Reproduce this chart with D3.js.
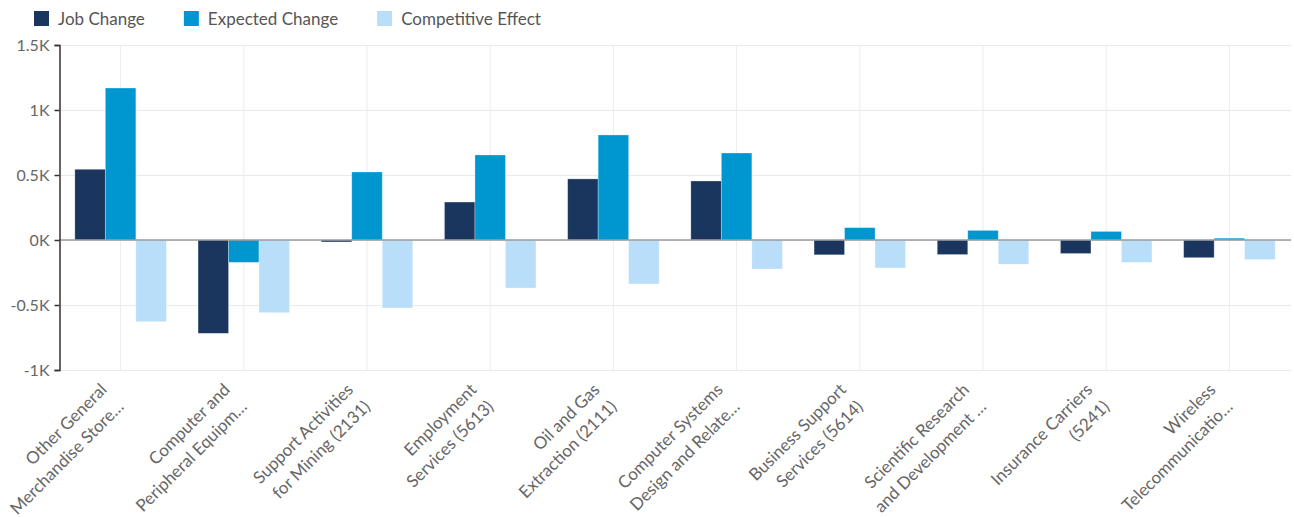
<!DOCTYPE html>
<html>
<head>
<meta charset="utf-8">
<script src="https://cdn.jsdelivr.net/npm/d3@7"></script>
<style>
  body { margin: 0; background: #fff; }
  svg { display: block; font-family: Lato, "Open Sans", sans-serif; }
</style>
</head>
<body>
<div id="chart"></div>
<script>
// category labels as shown (already cut by the chart)
var labels = [
    ["Other General", "Merchandise Store\u2026"],
    ["Computer and", "Peripheral Equipm\u2026"],
    ["Support Activities", "for Mining (2131)"],
    ["Employment", "Services (5613)"],
    ["Oil and Gas", "Extraction (2111)"],
    ["Computer Systems", "Design and Relate\u2026"],
    ["Business Support", "Services (5614)"],
    ["Scientific Research", "and Development \u2026"],
    ["Insurance Carriers", "(5241)"],
    ["Wireless", "Telecommunicatio\u2026"]
];
var seriesNames = ["Job Change", "Expected Change", "Competitive Effect"];
var seriesColors = ["#1a365e", "#0096d0", "#b8defa"];

var jobChange = [544, -718, -15, 292, 470, 454, -114, -112, -104, -136];
var expectedChange = [1169, -172, 523, 654, 808, 669, 95, 74, 66, 14];
var competitiveEffect = [-628, -559, -523, -369, -338, -223, -215, -186, -172, -150];

var yTicks = [-1000, -500, 0, 500, 1000, 1500];
var yTickLabels = ["-1K", "-0.5K", "0K", "0.5K", "1K", "1.5K"];

var W = 1294, H = 517;
var margin = {left: 59, right: 3, top: 45, bottom: 147};

var svg = d3.select("#chart").append("svg")
    .attr("width", W)
    .attr("height", H);

var series = [jobChange, expectedChange, competitiveEffect];
var idx = d3.range(labels.length);

var x0 = d3.scaleBand()
    .domain(idx)
    .range([margin.left, W - margin.right]);
var x1 = d3.scaleBand()
    .domain(d3.range(series.length))
    .range([0, x0.bandwidth()])
    .paddingOuter(0.52);
var y = d3.scaleLinear()
    .domain([-1000, 1500])
    .range([H - margin.bottom, margin.top]);

// grid
svg.append("g").selectAll("line.h")
    .data(yTicks)
    .enter().append("line")
    .attr("x1", margin.left).attr("x2", W - margin.right)
    .attr("y1", d => y(d) + 0.5).attr("y2", d => y(d) + 0.5)
    .attr("stroke", "#e9e9e9");
svg.append("g").selectAll("line.v")
    .data(idx)
    .enter().append("line")
    .attr("x1", d => x0(d) + x0.bandwidth() / 2)
    .attr("x2", d => x0(d) + x0.bandwidth() / 2)
    .attr("y1", margin.top).attr("y2", H - margin.bottom)
    .attr("stroke", "#ececec");

// bars
series.forEach(function(vals, s) {
    svg.append("g").selectAll("rect")
        .data(vals)
        .enter().append("rect")
        .attr("x", (d, i) => x0(i) + x1(s))
        .attr("width", x1.bandwidth())
        .attr("y", d => y(Math.max(0, d)))
        .attr("height", d => Math.abs(y(d) - y(0)))
        .attr("fill", seriesColors[s])
        .attr("stroke", "#fff")
        .attr("stroke-opacity", 0.35)
        .attr("stroke-width", 0.8);
});

// zero line
svg.append("line")
    .attr("x1", margin.left).attr("x2", W - margin.right)
    .attr("y1", y(0)).attr("y2", y(0))
    .attr("stroke", "#9a9a9a")
    .attr("stroke-width", 1.5);

// y axis
var yAxis = d3.axisLeft(y)
    .tickValues(yTicks)
    .tickSize(5)
    .tickPadding(5)
    .tickFormat((d, i) => yTickLabels[i]);
var ya = svg.append("g")
    .attr("transform", "translate(" + (margin.left + 0.5) + ",0)")
    .call(yAxis);
ya.select(".domain").attr("stroke", "#333").attr("stroke-width", 1.5);
ya.selectAll(".tick line").attr("stroke", "#333").attr("stroke-width", 1.5);
ya.selectAll(".tick text")
    .attr("fill", "#666")
    .attr("font-size", 16)
    .attr("font-family", "Lato, sans-serif");

// x labels, rotated
var lh = 24;
var xl = svg.append("g").selectAll("text")
    .data(idx)
    .enter().append("text")
    .attr("transform", d => "translate(" + (x0(d) + x0.bandwidth() / 2) + "," + (H - margin.bottom + 33.5) + ") rotate(-45)")
    .attr("text-anchor", "end")
    .attr("fill", "#666")
    .attr("font-size", 17);
xl.selectAll("tspan")
    .data(d => labels[d])
    .enter().append("tspan")
    .attr("x", 0)
    .attr("y", (d, i) => -18 + i * lh)
    .text(d => d);

// legend
var lx = 34;
seriesNames.forEach(function(name, s) {
    var g = svg.append("g").attr("transform", "translate(" + lx + ",0)");
    g.append("rect")
        .attr("x", 0).attr("y", 11)
        .attr("width", 15).attr("height", 15)
        .attr("fill", seriesColors[s]);
    var t = g.append("text")
        .attr("x", 24).attr("y", 24.5)
        .attr("fill", "#555")
        .attr("font-size", 17)
        .text(name);
    lx += 24 + t.node().getComputedTextLength() + 39;
});
</script>
</body>
</html>
